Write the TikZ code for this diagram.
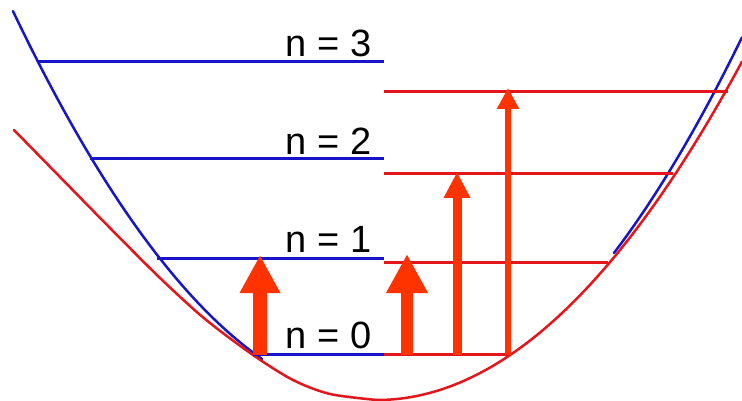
\documentclass[tikz,border=0pt]{standalone}
\usepackage{fontspec}
\setmainfont{Liberation Sans}
\usetikzlibrary{arrows.meta}
\definecolor{lvblue}{RGB}{22,22,200}
\definecolor{lvred}{RGB}{228,22,28}
\definecolor{arrred}{RGB}{255,51,0}
\begin{document}
\begin{tikzpicture}[x=1pt,y=-1pt,
  curve/.style={line width=2.5pt, line cap=round},
  level/.style={line width=3pt},
  lbl/.style={font=\fontsize{38}{40}\selectfont, anchor=base east, inner sep=0pt},
  excite/.style={draw=arrred, line cap=butt}]
\useasboundingbox (0,0) rectangle (742,401);

% blue (harmonic) potential, visible parts (the rest lies under the red curve)
\draw[lvblue,curve] plot[domain=13:262, samples=60] (\x,{402.5-((\x-386.5)*0.052962)^2});
\draw[lvblue,curve] plot[domain=614:742, samples=40] (\x,{402.5-((\x-386.5)*0.05376)^2});

% red (anharmonic) potential
\draw[lvred,curve] plot[smooth] coordinates {(14,130) (60,177) (110,228) (160,278) (205,319) (253,355) (293,380) (330,394) (377,400)};
\draw[lvred,curve] plot[domain=377:742, samples=80] (\x,{400-((\x-377)*0.0504)^2});

% blue levels
\coordinate (b0L) at (253,354); \coordinate (b0R) at (384,354);
\coordinate (b1L) at (157,258); \coordinate (b1R) at (384,258);
\coordinate (b2L) at (90,159);  \coordinate (b2R) at (384,159);
\coordinate (b3L) at (38,62);   \coordinate (b3R) at (384,62);
\foreach \i in {0,1,2,3} \draw[lvblue,level] (b\i L) -- (b\i R);

% red levels
\coordinate (r0L) at (384,354); \coordinate (r0R) at (511,354);
\coordinate (r1L) at (384,262); \coordinate (r1R) at (608,262);
\coordinate (r2L) at (384,174); \coordinate (r2R) at (673,174);
\coordinate (r3L) at (384,92);  \coordinate (r3R) at (728,92);
\foreach \i in {0,1,2,3} \draw[lvred,level] (r\i L) -- (r\i R);

% labels
\node[lbl] (n3) at (371.5,57) {n = 3};
\node[lbl] (n2) at (371.5,155) {n = 2};
\node[lbl] (n1) at (371.5,252) {n = 1};
\node[lbl] (n0) at (371.5,348) {n = 0};

% excitation arrows
\coordinate (a1s) at (260,355); \coordinate (a1t) at (260,255);
\coordinate (a2s) at (407,355); \coordinate (a2t) at (407,254);
\coordinate (a3s) at (457,355); \coordinate (a3t) at (457,172);
\coordinate (a4s) at (508,355); \coordinate (a4t) at (508,88);
\draw[excite, line width=14pt, -{Triangle[length=38pt,width=38pt]}] (a1s) -- (a1t);
\draw[excite, line width=12.5pt, -{Triangle[length=39pt,width=39pt]}] (a2s) -- (a2t);
\draw[excite, line width=9pt, -{Triangle[length=26pt,width=25pt]}] (a3s) -- (a3t);
\draw[excite, line width=6.5pt, -{Triangle[length=21pt,width=21pt]}] (a4s) -- (a4t);
\end{tikzpicture}
\end{document}
